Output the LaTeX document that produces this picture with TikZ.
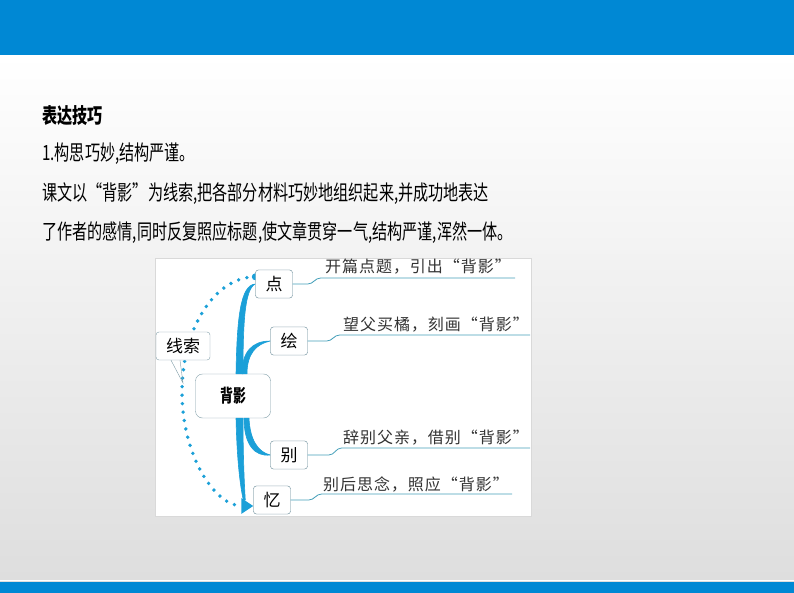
\documentclass[tikz,border=0pt]{standalone}
\usepackage{fontspec}
\setmainfont{Noto Sans CJK SC}[FakeStretch=0.72]
\newfontfamily\fwfont{Noto Sans CJK SC}[FakeStretch=0.72,RawFeature=+fwid]
\newfontfamily\labelfont{Noto Sans CJK SC}[LetterSpace=6]
\newfontfamily\boxfont{Noto Sans CJK SC}
\newcommand\qt[1]{{\fwfont “}#1{\fwfont ”}}
\usetikzlibrary{arrows.meta}
\definecolor{barblue}{RGB}{0,136,212}
\definecolor{branchblue}{RGB}{27,160,216}
\definecolor{boxgray}{RGB}{128,158,168}
\definecolor{leadblue}{RGB}{70,160,186}
\begin{document}
\begin{tikzpicture}[x=1pt,y=-1pt,
	box/.style={draw=boxgray,rounded corners=3pt,fill=white,minimum width=37pt,minimum height=28pt,inner sep=0pt,font=\boxfont\fontsize{17}{17}\selectfont},
	branch/.style={fill=branchblue,draw=branchblue,line width=0.6pt,line join=round},
	leader/.style={draw=leadblue,line width=0.8pt,rounded corners=4pt},
	lbl/.style={anchor=south west,inner sep=0pt,text=black!80,font=\labelfont\fontsize{16}{16}\selectfont},
	para/.style={anchor=west,inner sep=0pt,font=\fontsize{21}{21}\selectfont},
	dots/.style={draw=branchblue,line width=3.8pt,line cap=round,dash pattern=on 0pt off 8.5pt}]
	\useasboundingbox (0,0) rectangle (794,593);
	% page background and bars
	\shade[top color=white,bottom color=black!13] (0,55) rectangle (794,582);
	\fill[barblue] (0,0) rectangle (794,55);
	\fill[barblue] (0,582) rectangle (794,593);
	\draw[white,line width=1pt] (0,580) -- (794,580);
	% text
	\node[para,font=\bfseries\fontsize{21}{21}\selectfont] (title) at (42,116) {表达技巧};
	\node[para] (lineone) at (42,154) {1.构思巧妙,结构严谨。};
	\node[para] (linetwo) at (42,194) {课文以\qt{背影}为线索,把各部分材料巧妙地组织起来,并成功地表达};
	\node[para] (linethree) at (42,233) {了作者的感情,同时反复照应标题,使文章贯穿一气,结构严谨,浑然一体。};
	% diagram frame
	\draw[fill=white,draw=black!15] (155,258) rectangle (531,516);
	% nodes
	\node[box] (dian) at (274,284) {点};
	\node[box] (hui) at (289,341) {绘};
	\node[box] (bie) at (289,455) {别};
	\node[box] (yi) at (272,500) {忆};
	\coordinate (arcstart) at ([yshift=-7pt]dian.north west);
	\coordinate (arcend) at ([yshift=-6pt]yi.west);
	% dotted clue line
	\draw[dots,-{Triangle[length=12pt,width=15pt]}] (arcstart) .. controls (215,277) and (182,328) .. (182,392) .. controls (182,456) and (215,506) .. (arcend);
	\fill[branchblue] (arcstart) circle (3.5pt);
	\node[box,minimum width=54pt] (xiansuo) at (183,346) {线索};
	\draw[boxgray] ([xshift=-12pt]xiansuo.south) -- (183,383) -- ([xshift=-3pt]xiansuo.south);
	\node[box,minimum width=75pt,minimum height=44pt,rounded corners=7pt,font=\bfseries\fontsize{18}{18}\selectfont] (beiying) at (233,396) {背影};
	% branches
	\filldraw[branch] ([xshift=3pt]beiying.north) .. controls (237,320) and (240,285) .. (dian.west) .. controls (245,289) and (243,320) .. ([xshift=10pt]beiying.north) -- cycle;
	\filldraw[branch] ([xshift=9pt]beiying.north) .. controls (242,352) and (252,341) .. (hui.west) .. controls (256,344) and (247,354) .. ([xshift=14pt]beiying.north) -- cycle;
	\filldraw[branch] ([xshift=16pt]beiying.south) .. controls (250,440) and (258,452) .. (bie.west) .. controls (255,457) and (244,445) .. ([xshift=11pt]beiying.south) -- cycle;
	\filldraw[branch] ([xshift=3pt]beiying.south) .. controls (237,460) and (240,485) .. ([xshift=-10pt]yi.west) -- ([xshift=-8pt]yi.west) .. controls (244,480) and (243,450) .. ([xshift=10pt]beiying.south) -- cycle;
	\node[box] at (dian) {点};
	\node[box] at (hui) {绘};
	\node[box] at (bie) {别};
	\node[box] at (yi) {忆};
	% leaders and labels
	\coordinate (dianend) at (515,278);
	\coordinate (huiend) at (530,335);
	\coordinate (bieend) at (530,448);
	\coordinate (yiend) at (512,494);
	\draw[leader] (dian.east) -- ++(19,0) -- ++(5,-6) -- (dianend);
	\draw[leader] (hui.east) -- ++(23,0) -- ++(5,-6) -- (huiend);
	\draw[leader] (bie.east) -- ++(25,0) -- ++(5,-7) -- (bieend);
	\draw[leader] (yi.east) -- ++(22,0) -- ++(5,-6) -- (yiend);
	\node[lbl] (dianlbl) at (325,274) {开篇点题，引出“背影”};
	\node[lbl] (huilbl) at (343,332) {望父买橘，刻画“背影”};
	\node[lbl] (bielbl) at (343,445) {辞别父亲，借别“背影”};
	\node[lbl] (yilbl) at (323,492) {别后思念，照应“背影”};
\end{tikzpicture}
\end{document}
